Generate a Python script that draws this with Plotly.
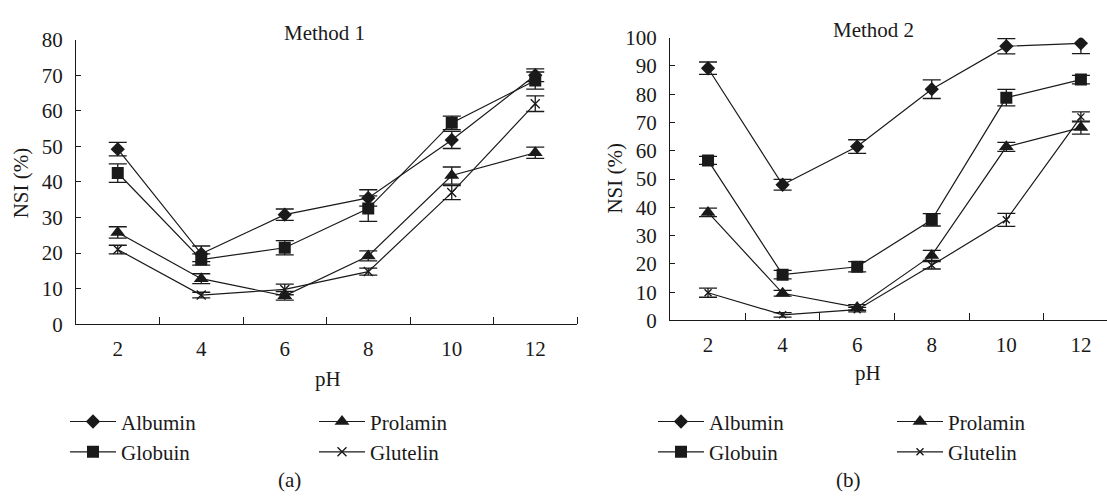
import plotly.graph_objects as go

# ---------------- data ----------------
ph = [2, 4, 6, 8, 10, 12]
series_names = ["Albumin", "Globuin", "Prolamin", "Glutelin"]

# Method 1 (panel a)
m1_albumin = [49.2, 19.8, 30.8, 35.5, 51.8, 70.0]
m1_albumin_err = [1.9, 2.2, 1.6, 2.3, 2.4, 1.8]
m1_globuin = [42.5, 18.2, 21.5, 32.5, 56.6, 68.5]
m1_globuin_err = [2.6, 1.6, 2.0, 3.6, 1.9, 2.4]
m1_prolamin = [25.8, 12.8, 8.0, 19.2, 41.8, 48.2]
m1_prolamin_err = [1.6, 1.4, 1.2, 1.4, 2.4, 1.6]
m1_glutelin = [21.0, 8.2, 9.8, 14.8, 37.0, 62.0]
m1_glutelin_err = [1.2, 0.8, 1.5, 1.0, 2.0, 2.2]

# Method 2 (panel b)
m2_albumin = [89.2, 48.0, 61.5, 81.8, 97.0, 98.0]
m2_albumin_err = [2.2, 1.9, 2.4, 3.3, 2.7, 3.6]
m2_globuin = [56.6, 16.2, 19.0, 35.6, 78.8, 85.2]
m2_globuin_err = [1.4, 1.5, 1.8, 2.2, 2.9, 1.5]
m2_prolamin = [38.2, 9.6, 4.6, 23.0, 61.4, 68.2]
m2_prolamin_err = [1.5, 1.0, 1.0, 1.8, 1.6, 2.3]
m2_glutelin = [9.8, 2.0, 3.8, 19.5, 35.6, 72.0]
m2_glutelin_err = [1.6, 0.8, 0.8, 1.3, 2.3, 1.8]

x_tick_labels = ["2", "4", "6", "8", "10", "12"]
between_ticks = [3, 5, 7, 9, 11, 13]

# ---------------- style ----------------
W, H = 1107, 500
FONT = "Liberation Serif"
FS = 21
BLACK = "#1a1a1a"

symbols = {
    "Albumin": dict(symbol="diamond", size=11),
    "Globuin": dict(symbol="square", size=12),
    "Prolamin": dict(symbol="triangle-up", size=13),
    "Glutelin": dict(symbol="x-thin", size=9),
}


def px_x(p):
    return p / W


def px_y(p):
    return 1 - p / H


fig = go.Figure()

panels = [
    ("x", "y", [m1_albumin, m1_globuin, m1_prolamin, m1_glutelin],
     [m1_albumin_err, m1_globuin_err, m1_prolamin_err, m1_glutelin_err],
     ["legend", "legend", "legend2", "legend2"], 9),
    ("x2", "y2", [m2_albumin, m2_globuin, m2_prolamin, m2_glutelin],
     [m2_albumin_err, m2_globuin_err, m2_prolamin_err, m2_glutelin_err],
     ["legend3", "legend3", "legend4", "legend4"], 7),
]

for xa, ya, vals, errs, legs, xsize in panels:
    for name, v, e, lg in zip(series_names, vals, errs, legs):
        sym = dict(symbols[name])
        if name == "Glutelin":
            sym["size"] = xsize
        fig.add_trace(go.Scatter(
            x=ph, y=v, name=name, mode="lines+markers",
            xaxis=xa, yaxis=ya, legend=lg,
            line=dict(color=BLACK, width=1.2),
            marker=dict(color=BLACK, symbol=sym["symbol"], size=sym["size"],
                        line=dict(color=BLACK, width=1.4 if name == "Glutelin" else 0)),
            error_y=dict(type="data", array=e, visible=True, color=BLACK,
                         thickness=1.3, width=9),
        ))

axis_common = dict(
    showline=True, linecolor=BLACK, linewidth=1.3, showgrid=False,
    zeroline=False, tickfont=dict(family=FONT, size=FS, color=BLACK),
)

fig.update_layout(
    width=W, height=H,
    margin=dict(l=0, r=0, t=0, b=0),
    paper_bgcolor="white", plot_bgcolor="white",
    font=dict(family=FONT, size=FS, color=BLACK),
    xaxis=dict(
        **axis_common, domain=[px_x(76), px_x(577)], range=[1, 13],
        tickmode="array", tickvals=ph, ticktext=x_tick_labels,
        ticks="", ticklabelstandoff=5, anchor="y",
        minor=dict(tickmode="array", tickvals=between_ticks, ticks="inside",
                   ticklen=7, tickwidth=1.2, tickcolor=BLACK),
    ),
    yaxis=dict(
        **axis_common, domain=[px_y(328), px_y(29)], range=[0, 80],
        tickmode="linear", tick0=0, dtick=10, ticks="inside", ticklen=5,
        tickwidth=1.2, tickcolor=BLACK, ticklabelstandoff=8, anchor="x",
    ),
    xaxis2=dict(
        **axis_common, domain=[px_x(670), 1.0], range=[0.98, 12.7],
        tickmode="array", tickvals=ph, ticktext=x_tick_labels,
        ticks="", ticklabelstandoff=5, anchor="y2",
        minor=dict(tickmode="array", tickvals=between_ticks, ticks="inside",
                   ticklen=7, tickwidth=1.2, tickcolor=BLACK),
    ),
    yaxis2=dict(
        **axis_common, domain=[px_y(324), px_y(27)], range=[0, 100],
        tickmode="linear", tick0=0, dtick=10, ticks="inside", ticklen=5,
        tickwidth=1.2, tickcolor=BLACK, ticklabelstandoff=8, anchor="x2",
    ),
)

leg_common = dict(orientation="v", bgcolor="rgba(0,0,0,0)", borderwidth=0,
                  font=dict(family=FONT, size=FS, color=BLACK),
                  itemwidth=46, tracegroupgap=0, xanchor="left", yanchor="top",
                  itemclick=False)
fig.update_layout(
    legend=dict(**leg_common, x=px_x(65), y=px_y(409)),
    legend2=dict(**leg_common, x=px_x(314), y=px_y(409)),
    legend3=dict(**leg_common, x=px_x(653), y=px_y(409)),
    legend4=dict(**leg_common, x=px_x(892), y=px_y(409)),
)

ann = []
def add_text(text, x, y, angle=0):
    ann.append(dict(text=text, x=px_x(x), y=px_y(y), xref="paper", yref="paper",
                    showarrow=False, xanchor="center", yanchor="middle",
                    textangle=angle, font=dict(family=FONT, size=FS, color=BLACK)))

add_text("Method 1", 324, 22)
add_text("Method 2", 873, 19)
add_text("NSI (%)", 21, 180, -90)
add_text("NSI (%)", 615, 175, -90)
add_text("pH", 328, 386)
add_text("pH", 868, 379)
add_text("(a)", 289, 492)
add_text("(b)", 848, 492)
fig.update_layout(annotations=ann)

fig.write_html("out.html")
